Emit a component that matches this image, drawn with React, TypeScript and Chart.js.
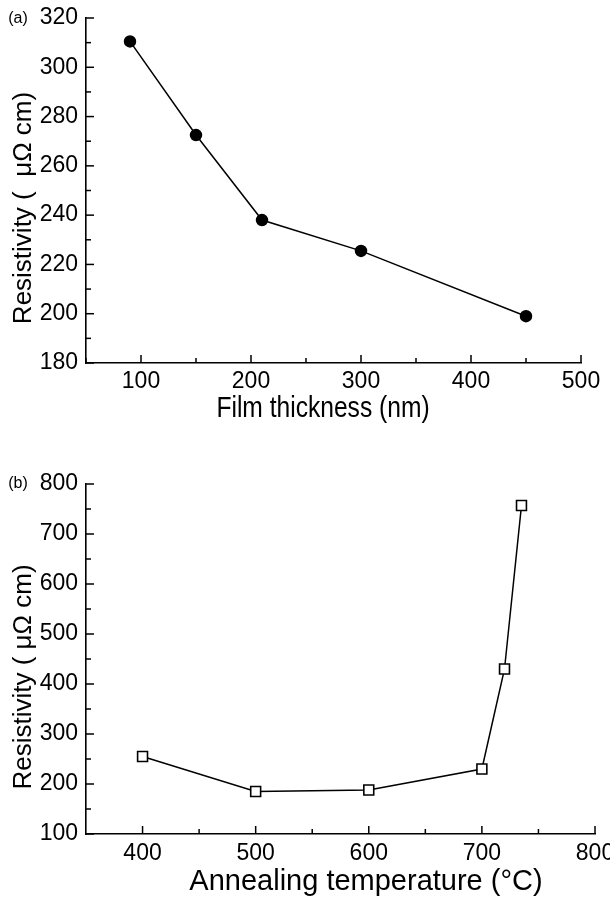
import React, { useEffect, useRef } from 'react';
import { Chart, registerables } from 'chart.js';

Chart.register(...registerables);

const FONT = '"Liberation Sans", Arial, Helvetica, sans-serif';

// ---- Panel (a): resistivity vs film thickness ----
const thicknessNm = [90, 150, 210, 300, 450];
const resistivityVsThickness = [310.5, 272.5, 238, 225.5, 199];
const thicknessTicks = [100, 200, 300, 400, 500];
const thicknessMinorTicks = [50, 150, 250, 350, 450];
const resistivityTicksA = [180, 200, 220, 240, 260, 280, 300, 320];
const resistivityMinorTicksA = [190, 210, 230, 250, 270, 290, 310];

// ---- Panel (b): resistivity vs annealing temperature ----
const annealTempC = [400, 500, 600, 700, 720, 735];
const resistivityVsTemp = [255, 185, 188, 230, 430, 757];
const tempTicks = [400, 500, 600, 700, 800];
const tempMinorTicks = [450, 550, 650, 750];
const resistivityTicksB = [100, 200, 300, 400, 500, 600, 700, 800];
const resistivityMinorTicksB = [150, 250, 350, 450, 550, 650, 750];

const tickMarks = {
  id: 'tickMarks',
  afterDraw(chart: any, _args: any, opts: any) {
    const { ctx, chartArea } = chart;
    const xs = chart.scales.x;
    const ys = chart.scales.y;
    ctx.save();
    ctx.strokeStyle = '#000';
    ctx.lineWidth = 1.5;
    const drawX = (vals: number[], len: number) => {
      vals.forEach((v) => {
        const px = xs.getPixelForValue(v);
        ctx.beginPath();
        ctx.moveTo(px, chartArea.bottom);
        ctx.lineTo(px, chartArea.bottom - len);
        ctx.stroke();
      });
    };
    const drawY = (vals: number[], len: number) => {
      vals.forEach((v) => {
        const py = ys.getPixelForValue(v);
        ctx.beginPath();
        ctx.moveTo(chartArea.left, py);
        ctx.lineTo(chartArea.left + len, py);
        ctx.stroke();
      });
    };
    drawX(opts.xMajor, 8);
    drawX(opts.xMinor, 5);
    drawY(opts.yMajor, 8);
    drawY(opts.yMinor, 5);
    ctx.restore();
  },
};

const panelText = {
  id: 'panelText',
  afterDraw(chart: any, _args: any, opts: any) {
    const { ctx } = chart;
    ctx.save();
    ctx.fillStyle = '#000';
    ctx.textAlign = 'center';
    ctx.textBaseline = 'middle';
    for (const t of opts.items) {
      ctx.save();
      ctx.translate(t.x, t.y);
      if (t.rotate) ctx.rotate(-Math.PI / 2);
      if (t.sx) ctx.scale(t.sx, 1);
      ctx.font = `${t.size}px ${FONT}`;
      ctx.fillText(t.text, 0, 0);
      ctx.restore();
    }
    ctx.restore();
  },
};

function makeScale(
  min: number,
  max: number,
  ticks: number[],
  size: number,
  fontSize: number,
  padding: number,
  horizontal: boolean
) {
  return {
    type: 'linear',
    min,
    max,
    afterBuildTicks: (s: any) => {
      s.ticks = ticks.map((v) => ({ value: v }));
    },
    afterFit: (s: any) => {
      if (horizontal) s.height = size;
      else s.width = size;
      s.paddingLeft = 0;
      s.paddingRight = 0;
      s.paddingTop = 0;
      s.paddingBottom = 0;
    },
    grid: { display: false, drawTicks: false, tickLength: 0 },
    border: { display: true, color: '#000', width: 1.6 },
    ticks: {
      color: '#000',
      font: { family: FONT, size: fontSize },
      padding,
      maxRotation: 0,
      autoSkip: false,
    },
  };
}

function PanelA() {
  const ref = useRef<HTMLCanvasElement>(null);
  useEffect(() => {
    const chart = new Chart(ref.current as HTMLCanvasElement, {
      type: 'line',
      data: {
        datasets: [
          {
            data: thicknessNm.map((t, i) => ({ x: t, y: resistivityVsThickness[i] })),
            borderColor: '#000',
            borderWidth: 1.5,
            pointRadius: 5.5,
            pointStyle: 'circle',
            pointBackgroundColor: '#000',
            pointBorderColor: '#000',
            tension: 0,
            clip: false,
          },
        ],
      },
      options: {
        animation: false,
        responsive: false,
        layout: { padding: { top: 18, right: 29, left: 0, bottom: 0 } },
        plugins: {
          legend: { display: false },
          tooltip: { enabled: false },
          tickMarks: {
            xMajor: thicknessTicks,
            xMinor: thicknessMinorTicks,
            yMajor: resistivityTicksA,
            yMinor: resistivityMinorTicksA,
          },
          panelText: {
            items: [
              { text: '(a)', x: 18, y: 19, size: 16 },
              { text: 'Film thickness (nm)', x: 323, y: 409, size: 30, sx: 0.82 },
              { text: 'Resistivity (  \u03bc\u03a9 cm)', x: 24, y: 208, size: 26, rotate: true },
            ],
          },
        } as any,
        scales: {
          x: makeScale(50, 500, thicknessTicks, 87, 23, 5, true),
          y: makeScale(180, 320, resistivityTicksA, 86, 23, 8, false),
        } as any,
      },
      plugins: [tickMarks, panelText],
    } as any);
    return () => chart.destroy();
  }, []);
  return <canvas ref={ref} width={610} height={450} style={{ position: 'absolute', left: 0, top: 0 }} />;
}

function PanelB() {
  const ref = useRef<HTMLCanvasElement>(null);
  useEffect(() => {
    const chart = new Chart(ref.current as HTMLCanvasElement, {
      type: 'line',
      data: {
        datasets: [
          {
            data: annealTempC.map((t, i) => ({ x: t, y: resistivityVsTemp[i] })),
            borderColor: '#000',
            borderWidth: 1.5,
            pointRadius: 7,
            pointStyle: 'rect',
            pointBackgroundColor: '#fff',
            pointBorderColor: '#000',
            pointBorderWidth: 1.6,
            tension: 0,
            clip: false,
          },
        ],
      },
      options: {
        animation: false,
        responsive: false,
        layout: { padding: { top: 34, right: 15, left: 0, bottom: 0 } },
        plugins: {
          legend: { display: false },
          tooltip: { enabled: false },
          tickMarks: {
            xMajor: tempTicks,
            xMinor: tempMinorTicks,
            yMajor: resistivityTicksB,
            yMinor: resistivityMinorTicksB,
          },
          panelText: {
            items: [
              { text: '(b)', x: 18, y: 34, size: 16 },
              { text: 'Annealing temperature (\u00b0C)', x: 366, y: 432, size: 29 },
              { text: 'Resistivity ( \u03bc\u03a9 cm)', x: 24, y: 227, size: 26, rotate: true },
            ],
          },
        } as any,
        scales: {
          x: makeScale(350, 800, tempTicks, 66, 23, 6, true),
          y: makeScale(100, 800, resistivityTicksB, 86, 23, 8, false),
        } as any,
      },
      plugins: [tickMarks, panelText],
    } as any);
    return () => chart.destroy();
  }, []);
  return <canvas ref={ref} width={610} height={450} style={{ position: 'absolute', left: 0, top: 450 }} />;
}

export default function App() {
  return (
    <div style={{ position: 'absolute', left: 0, top: 0, width: 610, height: 900, background: '#fff', overflow: 'hidden' }}>
      <PanelA />
      <PanelB />
    </div>
  );
}
